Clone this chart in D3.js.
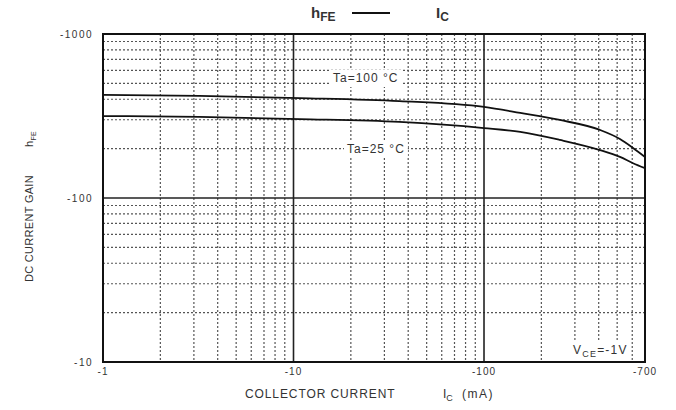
<!DOCTYPE html>
<html>
<head>
<meta charset="utf-8">
<script src="https://cdn.jsdelivr.net/npm/d3@7"></script>
<style>
  body { margin: 0; background: #fff; }
  text { font-family: "Liberation Sans", Arial, sans-serif; fill: #333; }
</style>
</head>
<body>
<div id="chart"></div>
<script>
//---------------------------DATA---------------------------//
const current = [1, 3.2, 10.8, 36, 100, 155, 250, 406, 517, 606, 700];
const gain100 = [425, 419, 407, 390, 359, 330, 299, 260, 229, 202, 178];
const gain25  = [316, 312, 303, 291, 267, 253, 226, 196, 178, 163, 152];
const xTicks = [1, 10, 100, 700];
const xTickLabels = ["-1", "-10", "-100", "-700"];
const yTicks = [10, 100, 1000];
const yTickLabels = ["-10", "-100", "-1000"];

//---------------------------SVG----------------------------//
const width = 676;
const height = 410;
const svg = d3.select("#chart").append("svg")
    .attr("width", width)
    .attr("height", height);

//--------------------------SCALES--------------------------//
const xScale = d3.scaleLog().domain([1, 700]).range([103, 645]);
const yScale = d3.scaleLog().domain([10, 1000]).range([362, 34]);

//---------------------------GRID---------------------------//
// minor lines at 2..9 of each decade, dotted
const xMinor = [];
[1, 10, 100].forEach(function(d) {
    for (let k = 2; k <= 9; k++) {
        if (d * k < 700) xMinor.push(d * k);
    }
});
const yMinor = [];
[10, 100].forEach(function(d) {
    for (let k = 2; k <= 9; k++) yMinor.push(d * k);
});

const grid = svg.append("g");
grid.selectAll(".vminor")
    .data(xMinor)
    .enter().append("line")
    .attr("x1", d => xScale(d)).attr("x2", d => xScale(d))
    .attr("y1", yScale(1000)).attr("y2", yScale(10))
    .attr("stroke", "#555")
    .attr("stroke-width", 1.2)
    .attr("stroke-dasharray", "2,2");

grid.selectAll(".hminor")
    .data(yMinor)
    .enter().append("line")
    .attr("x1", xScale(1)).attr("x2", xScale(700))
    .attr("y1", d => yScale(d)).attr("y2", d => yScale(d))
    .attr("stroke", "#555")
    .attr("stroke-width", 1.2)
    .attr("stroke-dasharray", "2,2");

// decade lines, solid
grid.selectAll(".vmajor")
    .data([10, 100])
    .enter().append("line")
    .attr("x1", d => xScale(d)).attr("x2", d => xScale(d))
    .attr("y1", yScale(1000)).attr("y2", yScale(10))
    .attr("stroke", "#222")
    .attr("stroke-width", 1.6);

grid.selectAll(".hmajor")
    .data([100])
    .enter().append("line")
    .attr("x1", xScale(1)).attr("x2", xScale(700))
    .attr("y1", d => yScale(d)).attr("y2", d => yScale(d))
    .attr("stroke", "#222")
    .attr("stroke-width", 1.6);

//-----------------------ANNOTATIONS------------------------//
function label(x, y, parts, size, spacing) {
    const t = svg.append("text")
        .attr("x", x).attr("y", y)
        .style("font-size", size + "px")
        .style("letter-spacing", (spacing || 0) + "px");
    parts.forEach(function(p) {
        const s = t.append("tspan").text(p.t);
        if (p.sub) s.attr("dy", 3).style("font-size", (size - 3) + "px");
        if (p.up) s.attr("dy", -3);
    });
    return t;
}

// white boxes behind the labels hide the grid
function boxed(x, y, parts, size, spacing) {
    const bg = svg.append("rect").attr("fill", "#fff");
    const t = label(x, y, parts, size, spacing);
    const b = t.node().getBBox();
    bg.attr("x", b.x - 3).attr("y", b.y - 1)
      .attr("width", b.width + 6).attr("height", b.height + 3);
    return t;
}

//---------------------------LINES--------------------------//
const line = d3.line()
    .x(d => xScale(d[0]))
    .y(d => yScale(d[1]))
    .curve(d3.curveMonotoneX);

[gain100, gain25].forEach(function(g) {
    svg.append("path")
        .datum(current.map((c, i) => [c, g[i]]))
        .attr("fill", "none")
        .attr("stroke", "#111")
        .attr("stroke-width", 1.8)
        .attr("d", line);
});

boxed(333, 82, [{t: "Ta=100 °C"}], 12, 1);
boxed(347, 153, [{t: "Ta=25 °C"}], 12, 1);
boxed(573, 354, [{t: "V"}, {t: "CE", sub: true}, {t: "=-1V", up: true}], 12, 1.2);

//---------------------------FRAME--------------------------//
svg.append("rect")
    .attr("x", xScale(1)).attr("y", yScale(1000))
    .attr("width", xScale(700) - xScale(1))
    .attr("height", yScale(10) - yScale(1000))
    .attr("fill", "none")
    .attr("stroke", "#111")
    .attr("stroke-width", 2);

//---------------------------AXES---------------------------//
svg.selectAll(".xt")
    .data(xTicks)
    .enter().append("text")
    .attr("x", d => xScale(d))
    .attr("y", 375)
    .attr("text-anchor", "middle")
    .style("font-size", "10px")
    .style("letter-spacing", "1px")
    .text((d, i) => xTickLabels[i]);

svg.selectAll(".yt")
    .data(yTicks)
    .enter().append("text")
    .attr("x", 93)
    .attr("y", d => yScale(d) + 4)
    .attr("text-anchor", "end")
    .style("font-size", "10px")
    .style("letter-spacing", "1.5px")
    .text((d, i) => yTickLabels[i]);

// x title
label(245, 398, [{t: "COLLECTOR CURRENT"}], 12, 0.9);
label(443, 398, [{t: "I"}, {t: "C", sub: true}], 12);
label(462, 398, [{t: "(mA)"}], 12, 1.5);

// y title
const yt = svg.append("text")
    .attr("transform", "translate(33,282) rotate(-90)")
    .style("font-size", "11px")
    .style("letter-spacing", "0.3px");
yt.append("tspan").text("DC CURRENT GAIN");
yt.append("tspan").attr("dx", 28).text("h");
yt.append("tspan").attr("dy", 3).style("font-size", "7px").text("FE");

// chart title
label(311, 18, [{t: "h"}, {t: "FE", sub: true}], 15)
    .style("font-weight", "bold");
svg.append("line")
    .attr("x1", 352).attr("x2", 390)
    .attr("y1", 13).attr("y2", 13)
    .attr("stroke", "#111")
    .attr("stroke-width", 2);
label(436, 18, [{t: "I"}, {t: "C", sub: true}], 15)
    .style("font-weight", "bold");
</script>
</body>
</html>
